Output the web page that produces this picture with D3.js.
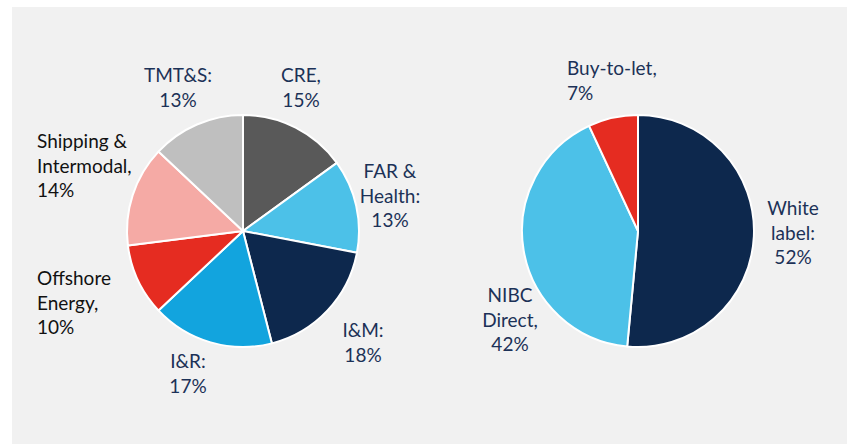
<!DOCTYPE html>
<html>
<head>
<meta charset="utf-8">
<script src="https://cdn.jsdelivr.net/npm/d3@7"></script>
<style>
  body { margin: 0; background: #fff; }
  text { font-family: "Lato", "Noto Sans", sans-serif; }
</style>
</head>
<body>
<div id="chart"></div>
<script>
// left pie: loan book by sector (clockwise from 12 o'clock)
const sectors = ["CRE", "FAR & Health", "I&M", "I&R", "Offshore Energy", "Shipping & Intermodal", "TMT&S"];
const sectorShares = [15, 13, 18, 17, 10, 14, 13];
const sectorColors = ["#595959", "#4cc1e8", "#0d284d", "#12a4de", "#e52c21", "#f5aaa5", "#bfbfbf"];
// label lines as shown in the picture
const sectorLabels = [["CRE,", "15%"], ["FAR &", "Health:", "13%"], ["I&M:", "18%"], ["I&R:", "17%"],
    ["Offshore", "Energy,", "10%"], ["Shipping &", "Intermodal,", "14%"], ["TMT&S:", "13%"]];

// right pie: retail mortgages by channel
const channels = ["White label", "NIBC Direct", "Buy-to-let"];
const channelShares = [52, 42, 7];
const channelColors = ["#0d284d", "#4cc1e8", "#e52c21"];
const channelLabels = [["White", "label:", "52%"], ["NIBC", "Direct,", "42%"], ["Buy-to-let,", "7%"]];

const W = 847, H = 444;
const navy = "#1c3157";

const svg = d3.select("#chart").append("svg")
    .attr("width", W)
    .attr("height", H);

// grey panel
svg.append("rect")
    .attr("x", 12).attr("y", 7)
    .attr("width", W - 12).attr("height", H - 7)
    .attr("fill", "#f1f1f1");

const radius = 116;
const arc = d3.arc().innerRadius(0).outerRadius(radius);
const pie = d3.pie().sort(null).value(d => d);

function drawPie(cx, cy, values, colors) {
    const g = svg.append("g").attr("transform", `translate(${cx},${cy})`);
    g.selectAll("path")
        .data(pie(values))
        .enter().append("path")
        .attr("d", arc)
        .attr("fill", (d, i) => colors[i])
        .attr("stroke", "#fff")
        .attr("stroke-width", 2)
        .attr("stroke-linejoin", "round");
    return g;
}

drawPie(243, 231, sectorShares, sectorColors);
drawPie(638, 231, channelShares, channelColors);

// label placement: [x, first baseline, anchor, colour]
const sectorPos = [
    [301, 82, "middle", navy],
    [390, 178, "middle", navy],
    [363, 337, "middle", navy],
    [188, 368, "middle", navy],
    [37, 285, "start", "#111"],
    [37, 148, "start", "#111"],
    [178, 82, "middle", navy]
];
const channelPos = [
    [793, 215, "middle", navy],
    [510, 302, "middle", navy],
    [567, 75, "start", navy]
];

const lineH = 24.5;

function drawLabels(labels, pos) {
    labels.forEach((lines, i) => {
        const p = pos[i];
        const t = svg.append("text")
            .attr("x", p[0])
            .attr("y", p[1])
            .attr("text-anchor", p[2])
            .attr("fill", p[3])
            .style("font-size", "19px");
        lines.forEach((l, j) => {
            t.append("tspan")
                .attr("x", p[0])
                .attr("y", p[1] + j * lineH)
                .text(l);
        });
    });
}

drawLabels(sectorLabels, sectorPos);
drawLabels(channelLabels, channelPos);
</script>
</body>
</html>
